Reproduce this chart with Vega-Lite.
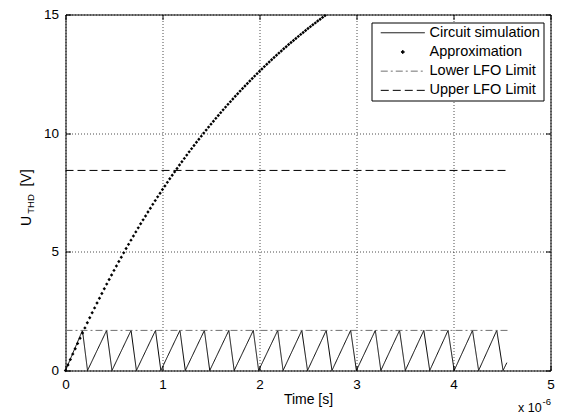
{
  "$schema": "https://vega.github.io/schema/vega-lite/v6.json",
  "width": 485,
  "height": 356,
  "autosize": {"type": "none"},
  "padding": {"left": 65.5, "top": 14.5, "right": 12.5, "bottom": 46.5},
  "background": "#ffffff",
  "config": {
    "view": {"stroke": "#000000", "strokeWidth": 1},
    "font": "Liberation Sans",
    "axis": {"labelFont": "Liberation Sans", "titleFont": "Liberation Sans", "labelColor": "#000", "titleColor": "#000", "titleFontWeight": "normal", "tickColor": "#000", "labelFlush": false, "labelOverlap": false}
  },
  "datasets": {
    "saw": [
      {"t": 0, "u": 0, "series": "Circuit simulation"},
      {"t": 0.175, "u": 1.69, "series": "Circuit simulation"},
      {"t": 0.227, "u": 0, "series": "Circuit simulation"},
      {"t": 0.424, "u": 1.69, "series": "Circuit simulation"},
      {"t": 0.479, "u": 0, "series": "Circuit simulation"},
      {"t": 0.676, "u": 1.69, "series": "Circuit simulation"},
      {"t": 0.731, "u": 0, "series": "Circuit simulation"},
      {"t": 0.928, "u": 1.69, "series": "Circuit simulation"},
      {"t": 0.983, "u": 0, "series": "Circuit simulation"},
      {"t": 1.180, "u": 1.69, "series": "Circuit simulation"},
      {"t": 1.235, "u": 0, "series": "Circuit simulation"},
      {"t": 1.432, "u": 1.69, "series": "Circuit simulation"},
      {"t": 1.487, "u": 0, "series": "Circuit simulation"},
      {"t": 1.684, "u": 1.69, "series": "Circuit simulation"},
      {"t": 1.739, "u": 0, "series": "Circuit simulation"},
      {"t": 1.936, "u": 1.69, "series": "Circuit simulation"},
      {"t": 1.991, "u": 0, "series": "Circuit simulation"},
      {"t": 2.188, "u": 1.69, "series": "Circuit simulation"},
      {"t": 2.243, "u": 0, "series": "Circuit simulation"},
      {"t": 2.436, "u": 1.69, "series": "Circuit simulation"},
      {"t": 2.495, "u": 0, "series": "Circuit simulation"},
      {"t": 2.688, "u": 1.69, "series": "Circuit simulation"},
      {"t": 2.747, "u": 0, "series": "Circuit simulation"},
      {"t": 2.940, "u": 1.69, "series": "Circuit simulation"},
      {"t": 2.999, "u": 0, "series": "Circuit simulation"},
      {"t": 3.194, "u": 1.69, "series": "Circuit simulation"},
      {"t": 3.251, "u": 0, "series": "Circuit simulation"},
      {"t": 3.444, "u": 1.69, "series": "Circuit simulation"},
      {"t": 3.503, "u": 0, "series": "Circuit simulation"},
      {"t": 3.694, "u": 1.69, "series": "Circuit simulation"},
      {"t": 3.755, "u": 0, "series": "Circuit simulation"},
      {"t": 3.944, "u": 1.69, "series": "Circuit simulation"},
      {"t": 4.007, "u": 0, "series": "Circuit simulation"},
      {"t": 4.196, "u": 1.69, "series": "Circuit simulation"},
      {"t": 4.259, "u": 0, "series": "Circuit simulation"},
      {"t": 4.446, "u": 1.69, "series": "Circuit simulation"},
      {"t": 4.511, "u": 0, "series": "Circuit simulation"},
      {"t": 4.55, "u": 0.33, "series": "Circuit simulation"}
    ],
    "limits": [
      {"t": 0, "u": 1.69, "series": "Lower LFO Limit"},
      {"t": 4.56, "u": 1.69, "series": "Lower LFO Limit"},
      {"t": 0, "u": 8.43, "series": "Upper LFO Limit"},
      {"t": 4.56, "u": 8.43, "series": "Upper LFO Limit"}
    ],
    "approx": [
      {"t": 0, "u": 0, "series": "Approximation"}, {"t": 0.025, "u": 0.233, "series": "Approximation"}, {"t": 0.05, "u": 0.463, "series": "Approximation"}, {"t": 0.075, "u": 0.691, "series": "Approximation"},
      {"t": 0.1, "u": 0.917, "series": "Approximation"}, {"t": 0.125, "u": 1.140, "series": "Approximation"}, {"t": 0.15, "u": 1.360, "series": "Approximation"}, {"t": 0.175, "u": 1.579, "series": "Approximation"},
      {"t": 0.2, "u": 1.795, "series": "Approximation"}, {"t": 0.225, "u": 2.009, "series": "Approximation"}, {"t": 0.25, "u": 2.220, "series": "Approximation"}, {"t": 0.275, "u": 2.430, "series": "Approximation"},
      {"t": 0.3, "u": 2.637, "series": "Approximation"}, {"t": 0.325, "u": 2.842, "series": "Approximation"}, {"t": 0.35, "u": 3.044, "series": "Approximation"}, {"t": 0.375, "u": 3.245, "series": "Approximation"},
      {"t": 0.4, "u": 3.443, "series": "Approximation"}, {"t": 0.425, "u": 3.640, "series": "Approximation"}, {"t": 0.45, "u": 3.834, "series": "Approximation"}, {"t": 0.475, "u": 4.026, "series": "Approximation"},
      {"t": 0.5, "u": 4.217, "series": "Approximation"}, {"t": 0.525, "u": 4.405, "series": "Approximation"}, {"t": 0.55, "u": 4.591, "series": "Approximation"}, {"t": 0.575, "u": 4.775, "series": "Approximation"},
      {"t": 0.6, "u": 4.957, "series": "Approximation"}, {"t": 0.625, "u": 5.138, "series": "Approximation"}, {"t": 0.65, "u": 5.316, "series": "Approximation"}, {"t": 0.675, "u": 5.493, "series": "Approximation"},
      {"t": 0.7, "u": 5.667, "series": "Approximation"}, {"t": 0.725, "u": 5.840, "series": "Approximation"}, {"t": 0.75, "u": 6.011, "series": "Approximation"}, {"t": 0.775, "u": 6.180, "series": "Approximation"},
      {"t": 0.8, "u": 6.348, "series": "Approximation"}, {"t": 0.825, "u": 6.513, "series": "Approximation"}, {"t": 0.85, "u": 6.677, "series": "Approximation"}, {"t": 0.875, "u": 6.839, "series": "Approximation"},
      {"t": 0.9, "u": 7.000, "series": "Approximation"}, {"t": 0.925, "u": 7.159, "series": "Approximation"}, {"t": 0.95, "u": 7.316, "series": "Approximation"}, {"t": 0.975, "u": 7.471, "series": "Approximation"},
      {"t": 1.0, "u": 7.625, "series": "Approximation"}, {"t": 1.025, "u": 7.777, "series": "Approximation"}, {"t": 1.05, "u": 7.927, "series": "Approximation"}, {"t": 1.075, "u": 8.076, "series": "Approximation"},
      {"t": 1.1, "u": 8.224, "series": "Approximation"}, {"t": 1.125, "u": 8.369, "series": "Approximation"}, {"t": 1.15, "u": 8.514, "series": "Approximation"}, {"t": 1.175, "u": 8.656, "series": "Approximation"},
      {"t": 1.2, "u": 8.798, "series": "Approximation"}, {"t": 1.225, "u": 8.937, "series": "Approximation"}, {"t": 1.25, "u": 9.076, "series": "Approximation"}, {"t": 1.275, "u": 9.212, "series": "Approximation"},
      {"t": 1.3, "u": 9.348, "series": "Approximation"}, {"t": 1.325, "u": 9.482, "series": "Approximation"}, {"t": 1.35, "u": 9.614, "series": "Approximation"}, {"t": 1.375, "u": 9.745, "series": "Approximation"},
      {"t": 1.4, "u": 9.875, "series": "Approximation"}, {"t": 1.425, "u": 10.003, "series": "Approximation"}, {"t": 1.45, "u": 10.130, "series": "Approximation"}, {"t": 1.475, "u": 10.256, "series": "Approximation"},
      {"t": 1.5, "u": 10.380, "series": "Approximation"}, {"t": 1.525, "u": 10.503, "series": "Approximation"}, {"t": 1.55, "u": 10.625, "series": "Approximation"}, {"t": 1.575, "u": 10.745, "series": "Approximation"},
      {"t": 1.6, "u": 10.864, "series": "Approximation"}, {"t": 1.625, "u": 10.982, "series": "Approximation"}, {"t": 1.65, "u": 11.098, "series": "Approximation"}, {"t": 1.675, "u": 11.214, "series": "Approximation"},
      {"t": 1.7, "u": 11.328, "series": "Approximation"}, {"t": 1.725, "u": 11.441, "series": "Approximation"}, {"t": 1.75, "u": 11.553, "series": "Approximation"}, {"t": 1.775, "u": 11.663, "series": "Approximation"},
      {"t": 1.8, "u": 11.773, "series": "Approximation"}, {"t": 1.825, "u": 11.881, "series": "Approximation"}, {"t": 1.85, "u": 11.988, "series": "Approximation"}, {"t": 1.875, "u": 12.094, "series": "Approximation"},
      {"t": 1.9, "u": 12.199, "series": "Approximation"}, {"t": 1.925, "u": 12.302, "series": "Approximation"}, {"t": 1.95, "u": 12.405, "series": "Approximation"}, {"t": 1.975, "u": 12.507, "series": "Approximation"},
      {"t": 2.0, "u": 12.607, "series": "Approximation"}, {"t": 2.025, "u": 12.706, "series": "Approximation"}, {"t": 2.05, "u": 12.805, "series": "Approximation"}, {"t": 2.075, "u": 12.902, "series": "Approximation"},
      {"t": 2.1, "u": 12.998, "series": "Approximation"}, {"t": 2.125, "u": 13.094, "series": "Approximation"}, {"t": 2.15, "u": 13.188, "series": "Approximation"}, {"t": 2.175, "u": 13.281, "series": "Approximation"},
      {"t": 2.2, "u": 13.373, "series": "Approximation"}, {"t": 2.225, "u": 13.465, "series": "Approximation"}, {"t": 2.25, "u": 13.555, "series": "Approximation"}, {"t": 2.275, "u": 13.644, "series": "Approximation"},
      {"t": 2.3, "u": 13.733, "series": "Approximation"}, {"t": 2.325, "u": 13.820, "series": "Approximation"}, {"t": 2.35, "u": 13.907, "series": "Approximation"}, {"t": 2.375, "u": 13.992, "series": "Approximation"},
      {"t": 2.4, "u": 14.077, "series": "Approximation"}, {"t": 2.425, "u": 14.161, "series": "Approximation"}, {"t": 2.45, "u": 14.244, "series": "Approximation"}, {"t": 2.475, "u": 14.326, "series": "Approximation"},
      {"t": 2.5, "u": 14.407, "series": "Approximation"}, {"t": 2.525, "u": 14.488, "series": "Approximation"}, {"t": 2.55, "u": 14.567, "series": "Approximation"}, {"t": 2.575, "u": 14.646, "series": "Approximation"},
      {"t": 2.6, "u": 14.724, "series": "Approximation"}, {"t": 2.625, "u": 14.801, "series": "Approximation"}, {"t": 2.65, "u": 14.877, "series": "Approximation"}, {"t": 2.675, "u": 14.952, "series": "Approximation"}
    ]
  },
  "resolve": {"axis": {"x": "independent", "y": "independent"}},
  "layer": [
    {
      "data": {"name": "saw"},
      "mark": {"type": "line", "color": "#000000", "strokeWidth": 1},
      "encoding": {
        "x": {"field": "t", "type": "quantitative",
          "scale": {"domain": [0, 5], "nice": false, "zero": false},
          "axis": {"orient": "bottom", "values": [0, 1, 2, 3, 4, 5], "title": "Time [s]", "grid": true, "gridDash": [1, 2], "gridColor": "#000000", "gridOpacity": 0.7, "domain": false, "tickSize": -5, "labelPadding": 12, "labelFontSize": 13.5, "titleFontSize": 14, "titleBaseline": "alphabetic", "titleY": 33}},
        "y": {"field": "u", "type": "quantitative",
          "scale": {"domain": [0, 15], "nice": false},
          "axis": {"orient": "left", "values": [0, 5, 10, 15], "title": "U", "grid": true, "gridDash": [1, 2], "gridColor": "#000000", "gridOpacity": 0.7, "domain": false, "tickSize": -5, "labelPadding": 12, "labelFontSize": 13.5, "titleFontSize": 14, "titleAngle": -90, "titleAlign": "center", "titleBaseline": "alphabetic", "titleX": -35, "titleY": 206}},
        "strokeDash": {"field": "series", "type": "nominal",
          "scale": {"domain": ["Circuit simulation", "Approximation", "Lower LFO Limit", "Upper LFO Limit"], "range": [[1, 0], [1, 0], [7, 3, 2, 3], [8, 4]]},
          "legend": {"title": null, "orient": "none", "legendX": 306, "legendY": 8, "padding": 3, "strokeColor": "#000000", "fillColor": "#ffffff", "cornerRadius": 0, "labelFont": "Liberation Sans", "labelFontSize": 14.5, "labelColor": "#000000", "labelLimit": 400, "rowPadding": 4.2, "symbolSize": 121, "symbolStrokeWidth": 1, "symbolOffset": 21, "labelOffset": 19.5, "symbolFillColor": "#000000", "symbolStrokeColor": "#000000"}}
      }
    },
    {
      "data": {"name": "limits"},
      "mark": {"type": "line", "strokeWidth": 1},
      "encoding": {
        "x": {"field": "t", "type": "quantitative",
          "axis": {"orient": "top", "values": [0, 1, 2, 3, 4, 5], "labels": false, "grid": false, "domain": false, "tickSize": -5, "title": "-6", "titleFontSize": 9.5, "titleAngle": 0, "titleAlign": "left", "titleBaseline": "alphabetic", "titleX": 476.5, "titleY": 390}},
        "y": {"field": "u", "type": "quantitative",
          "axis": {"orient": "right", "values": [0, 5, 10, 15], "labels": false, "grid": false, "domain": false, "tickSize": -5, "title": "[V]", "titleFontSize": 14, "titleAngle": -90, "titleAlign": "center", "titleBaseline": "alphabetic", "titleX": -520, "titleY": 163}},
        "strokeDash": {"field": "series", "type": "nominal", "legend": null},
        "color": {"field": "series", "type": "nominal",
          "scale": {"domain": ["Circuit simulation", "Approximation", "Lower LFO Limit", "Upper LFO Limit"], "range": ["#000000", "#000000", "#707070", "#000000"]},
          "legend": {"title": null, "orient": "none", "legendX": 306, "legendY": 8, "padding": 3, "strokeColor": "#000000", "fillColor": "#ffffff", "cornerRadius": 0, "labelFont": "Liberation Sans", "labelFontSize": 14.5, "labelColor": "#000000", "labelLimit": 400, "rowPadding": 4.2, "symbolSize": 121, "symbolStrokeWidth": 1, "symbolOffset": 21, "labelOffset": 19.5, "symbolFillColor": "#000000", "symbolStrokeColor": "#000000"}},
        "strokeWidth": {"field": "series", "type": "nominal", "scale": {"domain": ["Lower LFO Limit", "Upper LFO Limit"], "range": [1.5, 1]}, "legend": null}
      }
    },
    {
      "data": {"name": "approx"},
      "mark": {"type": "point", "filled": true, "color": "#000000", "size": 121, "opacity": 1, "strokeWidth": 0},
      "encoding": {
        "x": {"field": "t", "type": "quantitative",
          "axis": {"orient": "bottom", "labels": false, "ticks": false, "grid": false, "domain": false, "title": "x 10", "titleFontSize": 12.5, "titleAlign": "left", "titleBaseline": "alphabetic", "titleX": 452, "titleY": 41}},
        "y": {"field": "u", "type": "quantitative",
          "axis": {"orient": "left", "labels": false, "ticks": false, "grid": false, "domain": false, "title": "THD", "titleFontSize": 9.5, "titleAngle": -90, "titleAlign": "center", "titleBaseline": "alphabetic", "titleX": -32, "titleY": 189}},
        "shape": {"field": "series", "type": "nominal",
          "scale": {"domain": ["Circuit simulation", "Approximation", "Lower LFO Limit", "Upper LFO Limit"], "range": ["M-4,0L4,0", "M0,-0.31L0.31,0L0,0.31L-0.31,0Z", "M-4,0L4,0", "M-4,0L4,0"]},
          "legend": {"title": null, "orient": "none", "legendX": 306, "legendY": 8, "padding": 3, "strokeColor": "#000000", "fillColor": "#ffffff", "cornerRadius": 0, "labelFont": "Liberation Sans", "labelFontSize": 14.5, "labelColor": "#000000", "labelLimit": 400, "rowPadding": 4.2, "symbolSize": 121, "symbolStrokeWidth": 1, "symbolOffset": 21, "labelOffset": 19.5, "symbolFillColor": "#000000", "symbolStrokeColor": "#000000"}}
      }
    }
  ]
}
